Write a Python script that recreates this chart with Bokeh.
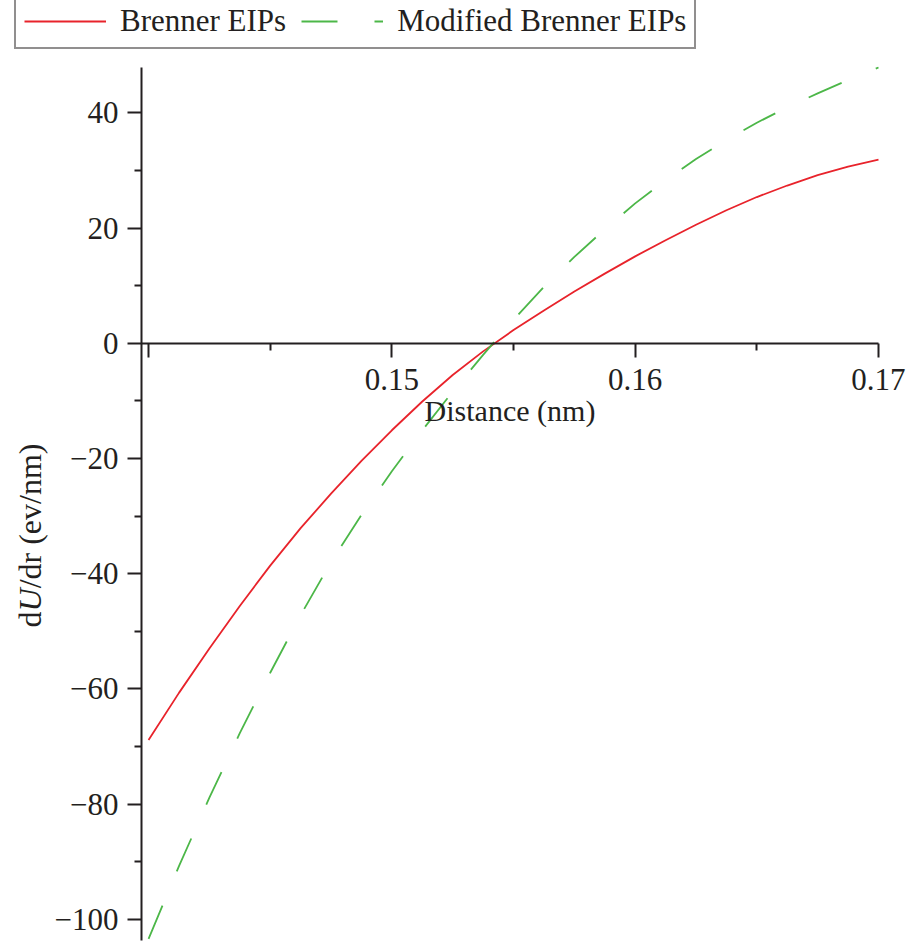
import math

from bokeh.plotting import figure
from bokeh.models import Range1d, FixedTicker, Label
from bokeh.embed import file_html
from bokeh.resources import INLINE

# Bond distance (nm) and the force dU/dr (eV/nm) for the two potentials
distance_nm = [0.14, 0.14125, 0.1425, 0.14375, 0.145, 0.14625, 0.1475, 0.14875,
               0.15, 0.15125, 0.1525, 0.15375, 0.155, 0.15625, 0.1575, 0.15875,
               0.16, 0.16125, 0.1625, 0.16375, 0.165, 0.16625, 0.1675, 0.16875,
               0.17]
brenner_eips = [-68.9, -60.7, -53.0, -45.6, -38.6, -32.1, -26.1, -20.4,
                -15.1, -10.1, -5.5, -1.4, 2.3, 5.7, 9.0, 12.1,
                15.1, 17.9, 20.6, 23.1, 25.4, 27.4, 29.2, 30.7,
                31.9]
modified_brenner_eips = [-103.4, -90.8, -78.9, -67.7, -57.2, -47.2, -38.0, -29.8,
                         -22.2, -15.1, -8.4, -2.0, 4.1, 9.8, 15.0, 19.8,
                         24.3, 28.3, 32.0, 35.3, 38.3, 41.0, 43.4, 45.7,
                         47.9]

series_names = ["Brenner EIPs", "Modified Brenner EIPs"]

# Axis ticks and their labels
x_major_ticks = [0.14, 0.15, 0.16, 0.17]
x_minor_ticks = [0.145, 0.155, 0.165]
x_tick_labels = ["", "0.15", "0.16", "0.17"]
y_major_ticks = [-100, -80, -60, -40, -20, 0, 20, 40]
y_minor_ticks = [-90, -70, -50, -30, -10, 10, 30]
y_tick_labels = ["\u2212100", "\u221280", "\u221260", "\u221240", "\u221220", "0", "20", "40"]

x_title = "Distance (nm)"
# y title pieces: (text, font style); the U is set in italics
y_title_parts = [("d", "normal"), ("U", "italic"), ("/dr (ev/nm)", "normal")]

# data extent covered by the axes
x_lo, x_hi = 0.13971, 0.17
y_lo, y_hi = -103.7, 47.9

FONT = "Liberation Serif"
INK = "#231f20"
RED = "#e8232b"
GREEN = "#4cb748"

# The frame fills the whole page; both axes sit at fixed places inside it,
# so the legend and the rotated title stay unclipped.
p = figure(
    width=908, height=943,
    x_range=Range1d(0.133915, 0.171233),
    y_range=Range1d(-104.22, 59.53),
    output_backend="svg", toolbar_location=None,
    min_border=0,
)
p.min_border_left = 0
p.min_border_right = 0
p.min_border_top = 0
p.min_border_bottom = 0
p.outline_line_color = None
p.background_fill_color = "white"
p.border_fill_color = "white"
p.xgrid.visible = False
p.ygrid.visible = False

p.line(distance_nm, brenner_eips, line_color=RED, line_width=1.8,
       legend_label=series_names[0])
p.line(distance_nm, modified_brenner_eips, line_color=GREEN, line_width=1.8,
       line_dash="36 37", legend_label=series_names[1])

# x axis crosses the plot at dU/dr = 0
xa = p.xaxis[0]
xa.fixed_location = 0
xa.bounds = (x_lo, x_hi)
xa.ticker = FixedTicker(ticks=x_major_ticks, minor_ticks=x_minor_ticks)
xa.major_label_overrides = dict(zip(x_major_ticks, x_tick_labels))
xa.axis_label = x_title
xa.axis_label_text_font = FONT
xa.axis_label_text_font_style = "normal"
xa.axis_label_text_font_size = "30px"
xa.axis_label_text_color = INK
xa.axis_label_standoff = 0
xa.major_label_standoff = 12

ya = p.yaxis[0]
ya.fixed_location = x_lo
ya.bounds = (y_lo, y_hi)
ya.ticker = FixedTicker(ticks=y_major_ticks, minor_ticks=y_minor_ticks)
ya.major_label_overrides = dict(zip(y_major_ticks, y_tick_labels))
ya.major_label_standoff = 9

for ax in (xa, ya):
    ax.axis_line_color = INK
    ax.axis_line_width = 2
    ax.major_tick_line_color = INK
    ax.major_tick_line_width = 2
    ax.minor_tick_line_color = INK
    ax.minor_tick_line_width = 2
    ax.major_tick_in = 0
    ax.major_tick_out = 14
    ax.minor_tick_in = 0
    ax.minor_tick_out = 7
    ax.major_label_text_font = FONT
    ax.major_label_text_font_size = "31px"
    ax.major_label_text_color = INK

# y axis title, rotated to read upwards, laid out piece by piece
title_x = 0.135109
title_y_starts = [-49.34, -46.56, -42.55]
for (txt, style), y0 in zip(y_title_parts, title_y_starts):
    p.add_layout(Label(
        x=title_x, y=y0, x_units="data", y_units="data",
        text=txt, angle=math.pi / 2,
        text_align="left", text_baseline="alphabetic",
        text_font=FONT, text_font_size="32px", text_font_style=style,
        text_color=INK,
    ))

lg = p.legend[0]
lg.orientation = "horizontal"
lg.location = (14, 943 - 49)
lg.border_line_color = INK
lg.border_line_width = 2
lg.background_fill_alpha = 1.0
lg.padding = 8
lg.margin = 0
lg.spacing = 15
lg.glyph_width = 82
lg.glyph_height = 24
lg.label_standoff = 14
lg.label_text_font = FONT
lg.label_text_font_size = "31px"
lg.label_text_color = INK

open("out.html", "w").write(file_html(p, INLINE))
